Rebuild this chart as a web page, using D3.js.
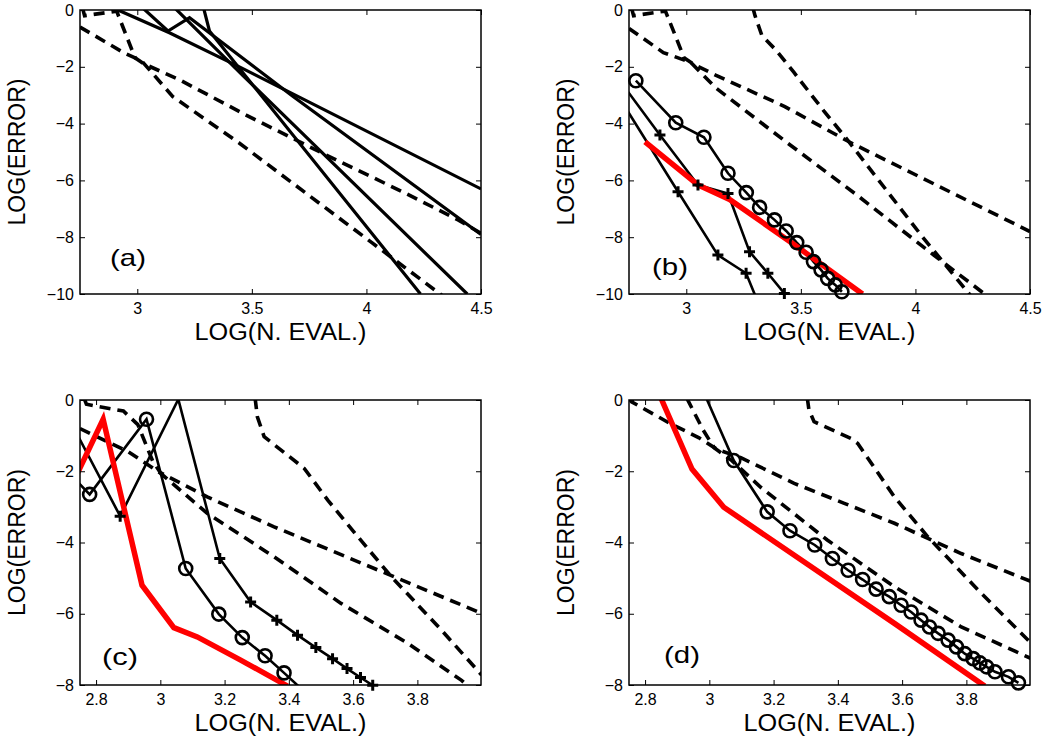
<!DOCTYPE html>
<html>
<head>
<meta charset="utf-8">
<script src="https://cdn.jsdelivr.net/npm/d3@7/dist/d3.min.js"></script>
<style>
  body { margin: 0; background: #fff; }
  svg { font-family: "Liberation Sans", Arial, sans-serif; }
</style>
</head>
<body>
<svg id="chart" width="1053" height="745"></svg>
<script>
// ---- data: [log(n. eval), log(error)] ----
// panel (a)
const aDashA = [[2.76,0.1],[2.77,-0.2],[2.91,-0.04],[2.95,-0.86],[2.99,-1.68],[3.03,-1.9],[3.185,-2.46],[3.475,-3.70],[3.81,-5.05],[4.17,-6.45],[4.40,-7.39],[4.5,-7.86]]
const aDashB = [[2.75,-0.6],[2.94,-1.5],[3.02,-1.8],[3.155,-3.05],[3.446,-4.69],[3.736,-6.45],[4.025,-8.2],[4.33,-10.05]]
const aSolid1 = [[2.85,0.2],[2.93,-0.05],[3.14,-0.8],[3.45,-2.02],[4.5,-6.3]]
const aSolid2 = [[3.02,0.1],[3.134,-0.74],[3.228,-0.27],[3.677,-3.03],[4.5,-7.9]]
const aSolid3 = [[3.16,0.1],[3.46,-2.3],[4.44,-10]]
const aSolid4 = [[3.29,0.05],[3.315,-0.74],[4.236,-10]]

// panel (b)
const bDashA = [[2.76,0.1],[2.77,-0.2],[2.909,-0.04],[2.95,-0.86],[2.99,-1.68],[3.03,-1.9],[3.13,-2.3],[3.43,-3.4],[3.71,-4.64],[4.5,-7.8]]
const bDashB = [[2.75,-0.65],[2.9,-1.5],[3.02,-1.85],[3.13,-2.75],[3.443,-4.69],[3.75,-6.55],[4.08,-8.63],[4.31,-10.05]]
const bDashC = [[3.29,0.1],[3.30,-0.2],[3.33,-0.9],[3.39,-1.4],[3.47,-2.2],[3.6,-3.55],[3.71,-4.64],[4.03,-7.98],[4.24,-10.05]]
const bCircle = [[2.78,-2.49],[2.954,-3.97],[3.077,-4.48],[3.182,-5.75],[3.262,-6.43],[3.32,-6.95],[3.385,-7.39],[3.436,-7.78],[3.482,-8.19],[3.523,-8.53],[3.555,-8.86],[3.588,-9.15],[3.617,-9.45],[3.65,-9.68],[3.679,-9.92]]
const bPlus1 = [[2.70,-2.99],[2.964,-6.40],[3.138,-8.63],[3.261,-9.27],[3.33,-10.63]]
const bPlus2 = [[2.72,-2.6],[2.885,-4.40],[3.051,-6.16],[3.182,-6.46],[3.276,-8.51],[3.356,-9.27],[3.428,-9.98]]
const bRed = [[2.82,-4.64],[3.051,-6.16],[3.189,-6.67],[3.464,-8.22],[3.769,-10.0]]

// panel (c)
const cDashA = [[2.765,0.0],[2.77,-0.12],[2.885,-0.31],[2.93,-0.69],[2.976,-1.71],[3.0,-2.04],[3.146,-2.72],[3.354,-3.56],[3.5625,-4.34],[4.0,-5.99]]
const cDashB = [[2.75,-0.8],[2.9,-1.45],[3.0,-2.05],[3.146,-3.18],[3.354,-4.4],[3.5625,-5.71],[3.77,-6.83],[3.9375,-7.87],[3.96,-8.05]]
const cDashC = [[3.295,0.05],[3.302,-0.47],[3.323,-1.03],[3.448,-1.92],[3.521,-2.81],[3.615,-3.84],[3.719,-4.96],[3.875,-6.46],[4.0,-7.72]]
const cCircle = [[2.70,-1.9],[2.78,-2.65],[2.957,-0.54],[3.079,-4.73],[3.182,-6.01],[3.255,-6.67],[3.326,-7.18],[3.385,-7.66],[3.45,-8.2]]
const cPlus = [[2.70,-0.26],[2.875,-3.26],[3.056,0.02],[3.185,-4.45],[3.281,-5.67],[3.3625,-6.18],[3.427,-6.6],[3.484,-6.95],[3.536,-7.26],[3.581,-7.54],[3.623,-7.79],[3.661,-8.01]]
const cRed = [[2.72,-2.47],[2.822,-0.54],[2.943,-5.2],[3.042,-6.39],[3.115,-6.65],[3.25,-7.3],[3.396,-8.03]]

// panel (d)
const dDashA = [[2.75,0.05],[2.758,-0.05],[2.878,-0.66],[2.968,-1.06],[3.025,-1.39],[3.098,-1.62],[3.264,-2.34],[3.42,-2.90],[3.576,-3.46],[3.784,-4.31],[4.003,-5.10]]
const dDashB = [[2.93,0.05],[2.98,-0.83],[3.015,-1.34],[3.07,-1.7],[3.16,-2.45],[3.367,-3.93],[3.576,-5.24],[3.784,-6.37],[4.0,-7.25]]
const dDashC = [[3.305,0.05],[3.310,-0.28],[3.326,-0.61],[3.441,-1.08],[3.462,-1.22],[3.576,-2.72],[3.68,-3.84],[3.837,-5.34],[4.003,-6.84]]
const dCircle = [[2.98,0.27],[3.076,-1.70],[3.180,-3.14],[3.251,-3.67],[3.328,-4.07],[3.383,-4.45],[3.432,-4.78],[3.477,-5.04],[3.519,-5.31],[3.560,-5.52],[3.597,-5.76],[3.628,-5.95],[3.659,-6.18],[3.685,-6.37],[3.712,-6.55],[3.743,-6.74],[3.769,-6.93],[3.795,-7.12],[3.821,-7.26],[3.842,-7.38],[3.863,-7.49],[3.889,-7.63],[3.931,-7.77],[3.962,-7.94]]
const dRed = [[2.84,0.25],[2.852,0],[2.946,-1.94],[3.045,-3.01],[3.576,-6.27],[3.857,-8.03]]

// ticks
const xTicksTop = [3, 3.5, 4, 4.5]
const xTicksBottom = [2.8, 3, 3.2, 3.4, 3.6, 3.8]
const yTicksTop = [0, -2, -4, -6, -8, -10]
const yTicksBottom = [0, -2, -4, -6, -8]

const xLabel = "LOG(N. EVAL.)"
const yLabel = "LOG(ERROR)"

const svg = d3.select("#chart")

const panels = [
  {id: "a", tag: "(a)", left: 80, top: 10, w: 401, h: 284, xDom: [2.75, 4.5], yDom: [-10, 0],
   xt: xTicksTop, yt: yTicksTop, tagX: 110, tagY: 266,
   series: [
     {d: aDashA, type: "dash"}, {d: aDashB, type: "dash"},
     {d: aSolid1, type: "solid"}, {d: aSolid2, type: "solid"},
     {d: aSolid3, type: "solid"}, {d: aSolid4, type: "solid"}]},
  {id: "b", tag: "(b)", left: 629, top: 10, w: 401, h: 284, xDom: [2.75, 4.5], yDom: [-10, 0],
   xt: xTicksTop, yt: yTicksTop, tagX: 652, tagY: 275,
   series: [
     {d: bDashA, type: "dash"}, {d: bDashB, type: "dash"}, {d: bDashC, type: "dash"},
     {d: bPlus1, type: "plus"}, {d: bPlus2, type: "plus"},
     {d: bCircle, type: "circle"}, {d: bRed, type: "red"}]},
  {id: "c", tag: "(c)", left: 80, top: 400, w: 401, h: 285, xDom: [2.75, 3.998], yDom: [-8, 0],
   xt: xTicksBottom, yt: yTicksBottom, tagX: 102, tagY: 665,
   series: [
     {d: cDashA, type: "dash"}, {d: cDashB, type: "dash"}, {d: cDashC, type: "dash"},
     {d: cPlus, type: "plus"}, {d: cCircle, type: "circle"}, {d: cRed, type: "red"}]},
  {id: "d", tag: "(d)", left: 629, top: 400, w: 401, h: 285, xDom: [2.75, 3.998], yDom: [-8, 0],
   xt: xTicksBottom, yt: yTicksBottom, tagX: 664, tagY: 663,
   series: [
     {d: dDashA, type: "dash"}, {d: dDashB, type: "dash"}, {d: dDashC, type: "dash"},
     {d: dCircle, type: "circle"}, {d: dRed, type: "red"}]}
]

panels.forEach(drawPanel)

function drawPanel(p){
  const x = d3.scaleLinear().domain(p.xDom).range([0, p.w])
  const y = d3.scaleLinear().domain(p.yDom).range([p.h, 0])
  const g = svg.append("g").attr("transform", `translate(${p.left},${p.top})`)

  g.append("clipPath").attr("id", "clip-" + p.id)
    .append("rect").attr("x", 0).attr("y", 0).attr("width", p.w).attr("height", p.h)

  const plot = g.append("g").attr("clip-path", `url(#clip-${p.id})`)
  const line = d3.line().x(d => x(d[0])).y(d => y(d[1]))

  p.series.forEach(s => {
    const path = plot.append("path")
      .attr("d", line(s.d))
      .attr("fill", "none")
      .attr("stroke-linejoin", "miter")
    if (s.type === "dash") {
      path.attr("stroke", "#000").attr("stroke-width", 3.6).attr("stroke-dasharray", "11,7")
    } else if (s.type === "red") {
      path.attr("stroke", "#ff0000").attr("stroke-width", 5.5)
    } else {
      path.attr("stroke", "#000").attr("stroke-width", s.type === "solid" ? 3.2 : 2.6)
    }
    // markers only where the point is inside the axes
    const inside = s.d.filter(d => d[0] >= p.xDom[0] && d[0] <= p.xDom[1] + 0.01 &&
                                   d[1] >= p.yDom[0] - 0.05 && d[1] <= p.yDom[1])
    if (s.type === "circle") {
      g.selectAll(null).data(inside).join("circle")
        .attr("cx", d => x(d[0])).attr("cy", d => y(d[1])).attr("r", 6.5)
        .attr("fill", "none").attr("stroke", "#000").attr("stroke-width", 2.6)
    }
    if (s.type === "plus") {
      g.selectAll(null).data(inside).join("path")
        .attr("d", d => {
          const cx = x(d[0]), cy = y(d[1]), r = 5.5
          return `M${cx - r},${cy}H${cx + r}M${cx},${cy - r}V${cy + r}`
        })
        .attr("stroke", "#000").attr("stroke-width", 3)
    }
  })

  // axes with inward ticks, mirrored on top/right
  const fmt = d3.format("~g")
  g.append("g").attr("transform", `translate(0,${p.h})`)
    .call(d3.axisBottom(x).tickValues(p.xt).tickSize(-5).tickPadding(9).tickFormat(fmt))
  g.append("g")
    .call(d3.axisTop(x).tickValues(p.xt).tickSize(-5).tickFormat(""))
  g.append("g")
    .call(d3.axisLeft(y).tickValues(p.yt).tickSize(-5).tickPadding(6).tickFormat(fmt))
  g.append("g").attr("transform", `translate(${p.w},0)`)
    .call(d3.axisRight(y).tickValues(p.yt).tickSize(-5).tickFormat(""))

  g.selectAll(".domain").remove()
  g.selectAll(".tick line").attr("stroke", "#000").attr("stroke-width", 1)
  g.selectAll(".tick text").attr("font-size", 16).attr("fill", "#000")
    .attr("font-family", "Liberation Sans, Arial, sans-serif")

  g.append("rect").attr("width", p.w).attr("height", p.h)
    .attr("fill", "none").attr("stroke", "#000").attr("stroke-width", 1.5)

  // labels (the source figure is slightly stretched horizontally)
  g.append("text")
    .attr("x", p.w / 2 - 86).attr("y", p.h + 46)
    .attr("font-size", 23)
    .attr("textLength", 172).attr("lengthAdjust", "spacingAndGlyphs")
    .text(xLabel)
  g.append("text")
    .attr("transform", `translate(${-55},${p.h / 2}) rotate(-90)`)
    .attr("text-anchor", "middle").attr("font-size", 23)
    .text(yLabel)

  svg.append("text")
    .attr("x", p.tagX).attr("y", p.tagY)
    .attr("font-size", 24)
    .attr("textLength", 36).attr("lengthAdjust", "spacingAndGlyphs")
    .text(p.tag)
}
</script>
</body>
</html>
